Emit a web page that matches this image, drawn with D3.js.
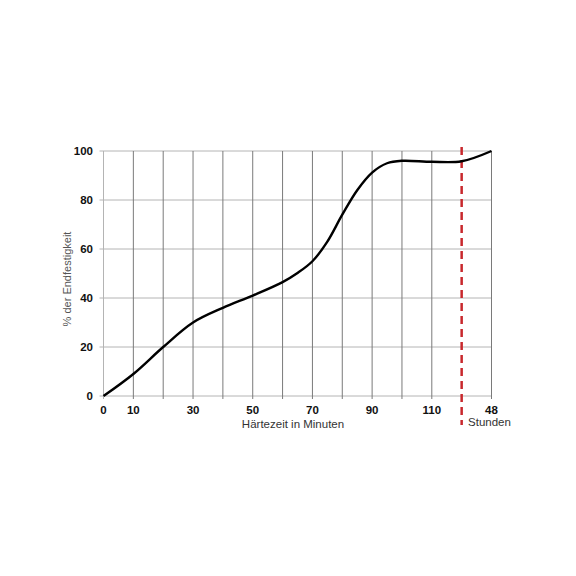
<!DOCTYPE html>
<html><head><meta charset="utf-8">
<script src="https://cdn.jsdelivr.net/npm/d3@7"></script>
<style>body{margin:0;background:#fff}svg{display:block}text{font-family:"Liberation Sans",Arial,sans-serif}</style>
</head><body>
<svg id="c" width="576" height="576"></svg>
<script>
// Data: x = minutes (130 stands for the 48 h point), y = % of final strength
const minutes = [0, 10, 20, 30, 40, 50, 60, 65, 70, 75, 80, 85, 90, 95, 100, 110, 120, 130];
const strength = [0, 9, 20, 30, 36, 41, 46.5, 50.2, 55, 63, 74, 84, 91.2, 95, 96, 95.6, 95.8, 100];
const gridX = [0, 10, 20, 30, 40, 50, 60, 70, 80, 90, 100, 110, 130];
const xTickValues = [0, 10, 30, 50, 70, 90, 110, 130];
const xTickLabels = ["0", "10", "30", "50", "70", "90", "110", "48"];
const yTicks = [0, 20, 40, 60, 80, 100];
const markerX = 120;

const svg = d3.select("#c");
const x = d3.scaleLinear().domain([0, 130]).range([103.5, 491.5]);
const y = d3.scaleLinear().domain([0, 100]).range([396, 151]);

// horizontal grid
svg.append("g").selectAll("line").data(yTicks).join("line")
  .attr("x1", x(0) - 4).attr("x2", x(130))
  .attr("y1", d => y(d)).attr("y2", d => y(d))
  .attr("stroke", "#b4b4b4").attr("stroke-width", 1);
// vertical grid
svg.append("g").selectAll("line").data(gridX).join("line")
  .attr("x1", d => x(d)).attr("x2", d => x(d))
  .attr("y1", y(100)).attr("y2", y(0) + 3)
  .attr("stroke", d => d === 0 ? "#b4b4b4" : "#7a7a7a").attr("stroke-width", 1);

// y tick labels
svg.append("g").selectAll("text").data(yTicks).join("text")
  .attr("x", 93).attr("y", d => y(d)).attr("dy", "0.36em")
  .attr("text-anchor", "end").attr("font-size", 11.5).attr("font-weight", "bold")
  .attr("fill", "#111").text(d => d);

// x tick labels
svg.append("g").selectAll("text").data(xTickValues).join("text")
  .attr("x", d => x(d)).attr("y", 414)
  .attr("text-anchor", "middle").attr("font-size", 11.5).attr("font-weight", "bold")
  .attr("fill", "#111").text((d, i) => xTickLabels[i]);

// axis titles
svg.append("text").attr("x", 293).attr("y", 428).attr("text-anchor", "middle")
  .attr("font-size", 11.5).attr("fill", "#333").text("Härtezeit in Minuten");
svg.append("text").attr("x", 489.5).attr("y", 426).attr("text-anchor", "middle")
  .attr("font-size", 11.5).attr("fill", "#333").text("Stunden");
svg.append("text").attr("transform", "translate(71,279) rotate(-90)")
  .attr("text-anchor", "middle").attr("font-size", 11)
  .attr("fill", "#555").text("% der Endfestigkeit");

// red dashed marker
svg.append("line").attr("x1", x(markerX)).attr("x2", x(markerX))
  .attr("y1", 147).attr("y2", 425)
  .attr("stroke", "#c8282d").attr("stroke-width", 2.5).attr("stroke-dasharray", "8,5");

// curve
const line = d3.line().x((d, i) => x(minutes[i])).y(d => y(d)).curve(d3.curveCatmullRom.alpha(0.5));
svg.append("path").datum(strength).attr("d", line)
  .attr("fill", "none").attr("stroke", "#000").attr("stroke-width", 2.4);
</script>
</body></html>
